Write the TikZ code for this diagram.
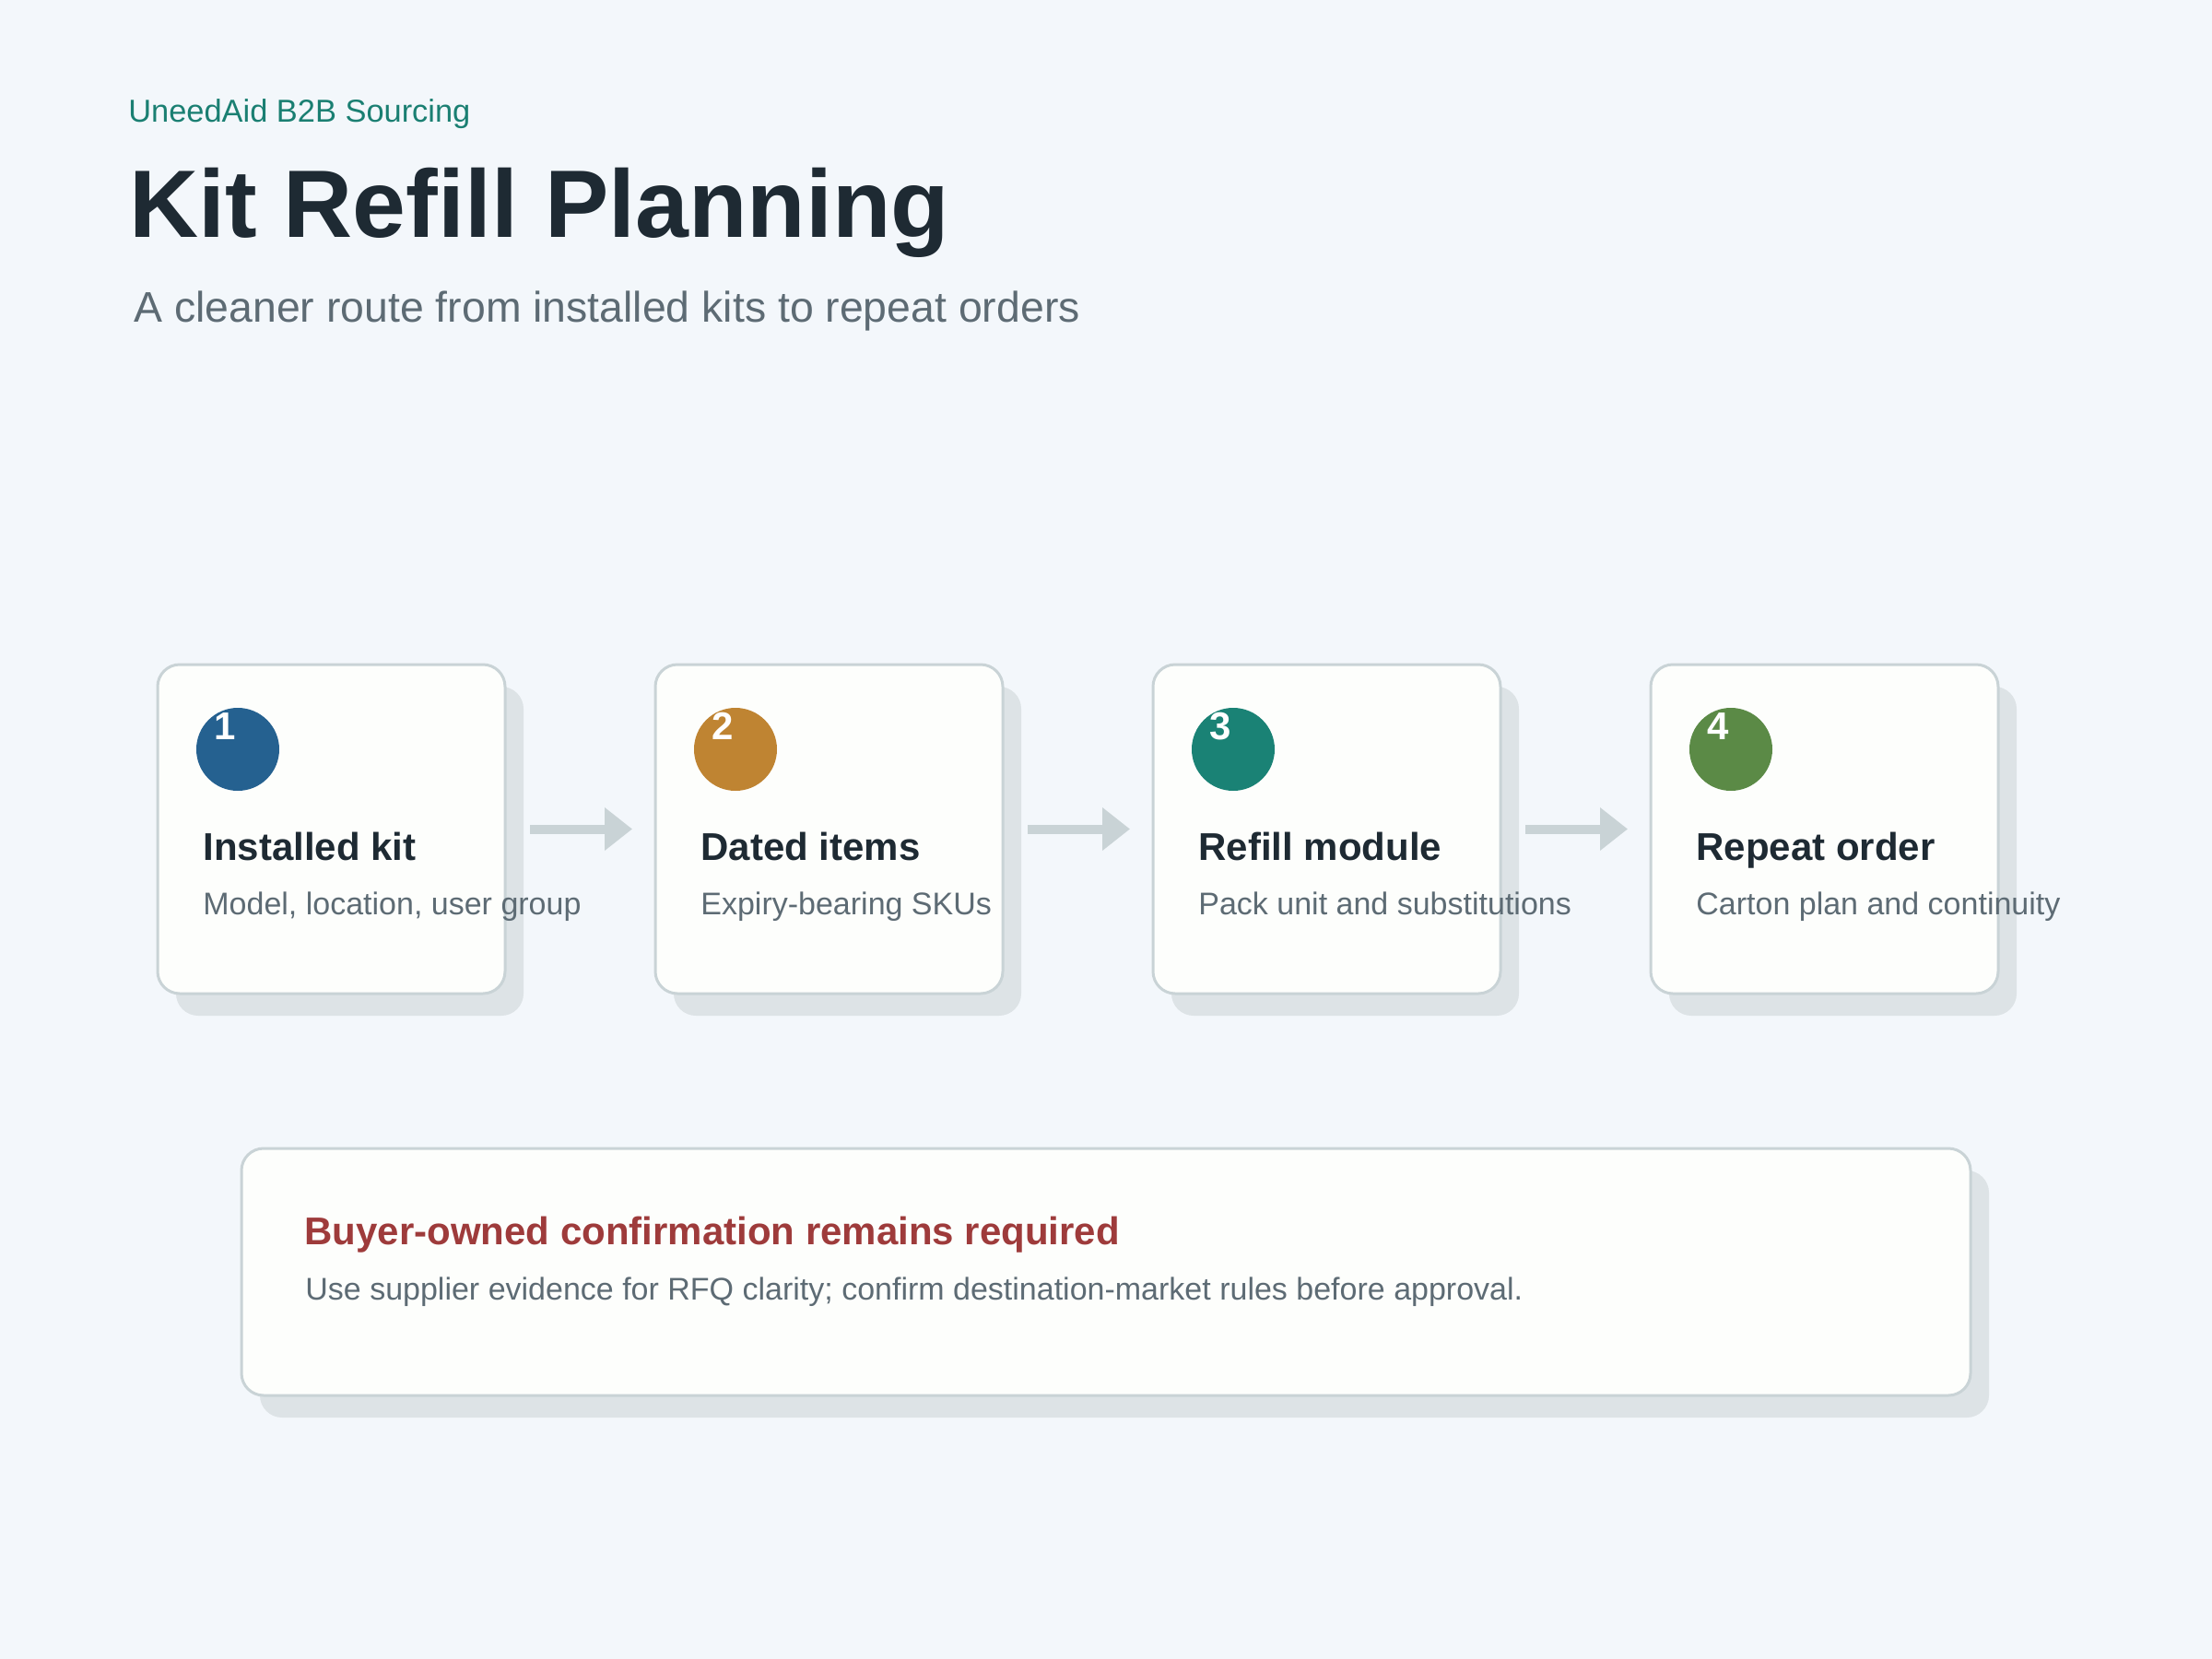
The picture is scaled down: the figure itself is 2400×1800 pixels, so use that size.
\documentclass[tikz,border=0pt]{standalone}
\usepackage{fontspec}
\setmainfont{Liberation Sans}
\usetikzlibrary{arrows.meta,shadows,calc}
\definecolor{bgcol}{HTML}{F3F7FB}
\definecolor{tealtxt}{HTML}{1A7F72}
\definecolor{darktxt}{HTML}{1E2A33}
\definecolor{graytxt}{HTML}{5D6B74}
\definecolor{redtxt}{HTML}{9E3B3B}
\definecolor{cardfill}{HTML}{FDFEFC}
\definecolor{cardline}{HTML}{C9D3D6}
\definecolor{shadowcol}{HTML}{DDE3E6}
\definecolor{arrowcol}{HTML}{C9D3D6}
\definecolor{cblue}{HTML}{256190}
\definecolor{corange}{HTML}{BF8432}
\definecolor{cteal}{HTML}{1A8275}
\definecolor{cgreen}{HTML}{5B8A46}
\tikzset{
  card/.style={draw=cardline, line width=1.5pt, fill=cardfill, rounded corners=12pt,
    inner sep=0pt, outer sep=0pt,
    general shadow={fill=shadowcol, shadow xshift=10pt, shadow yshift=-12pt}},
  stepcard/.style={card, minimum width=188.5pt, minimum height=178.5pt},
  badge/.style={circle, inner sep=0pt, minimum size=45pt},
  badgenum/.style={inner sep=0pt, text=white, font=\fontsize{21}{24}\selectfont\bfseries},
  txt/.style={inner sep=0pt, anchor=base west},
  headtxt/.style={txt, text=darktxt, font=\fontsize{21}{24}\selectfont\bfseries},
  desctxt/.style={txt, text=graytxt, font=\fontsize{17}{20}\selectfont},
  flow/.style={draw=arrowcol, line width=5pt, -{Triangle[length=15pt,width=22.5pt]},
    shorten <=13.5pt, shorten >=12.5pt}
}
\begin{document}
\begin{tikzpicture}[x=0.5pt,y=-0.5pt]
\useasboundingbox[fill=bgcol] (0,0) rectangle (2400,1800);
% header
\node[txt, text=tealtxt, font=\fontsize{17.2}{20}\selectfont] (kicker) at (139,132) {UneedAid B2B Sourcing};
\node[txt, text=darktxt, font=\fontsize{52}{60}\selectfont\bfseries] (title) at (140,257) {Kit Refill Planning};
\node[txt, text=graytxt, font=\fontsize{23.2}{28}\selectfont] (subtitle) at (145,349) {A cleaner route from installed kits to repeat orders};
% cards
\foreach \i/\col/\head/\desc in {
  1/cblue/Installed kit/{Model, location, user group},
  2/corange/Dated items/Expiry-bearing SKUs,
  3/cteal/Refill module/Pack unit and substitutions,
  4/cgreen/Repeat order/Carton plan and continuity}{
  \pgfmathsetmacro{\L}{171+540*(\i-1)}
  \node[stepcard] (b\i) at (\L+188.5,899.5) {};
  \node[badge, fill=\col] (c\i) at (\L+87,813) {};
  \node[badgenum] (n\i) at (\L+73,788) {\i};
  \node[headtxt] (h\i) at (\L+49,933) {\head};
  \node[desctxt] (d\i) at (\L+49,992) {\desc};
}
\draw[flow] (b1.east) -- (b2.west);
\draw[flow] (b2.east) -- (b3.west);
\draw[flow] (b3.east) -- (b4.west);
% note card
\node[card, minimum width=938pt, minimum height=134pt] (note) at (1200,1380) {};
\node[txt, text=redtxt, font=\fontsize{21}{24}\selectfont\bfseries] (noteh) at (330,1350) {Buyer-owned confirmation remains required};
\node[desctxt] (noted) at (331,1410) {Use supplier evidence for RFQ clarity; confirm destination-market rules before approval.};
\end{tikzpicture}
\end{document}
